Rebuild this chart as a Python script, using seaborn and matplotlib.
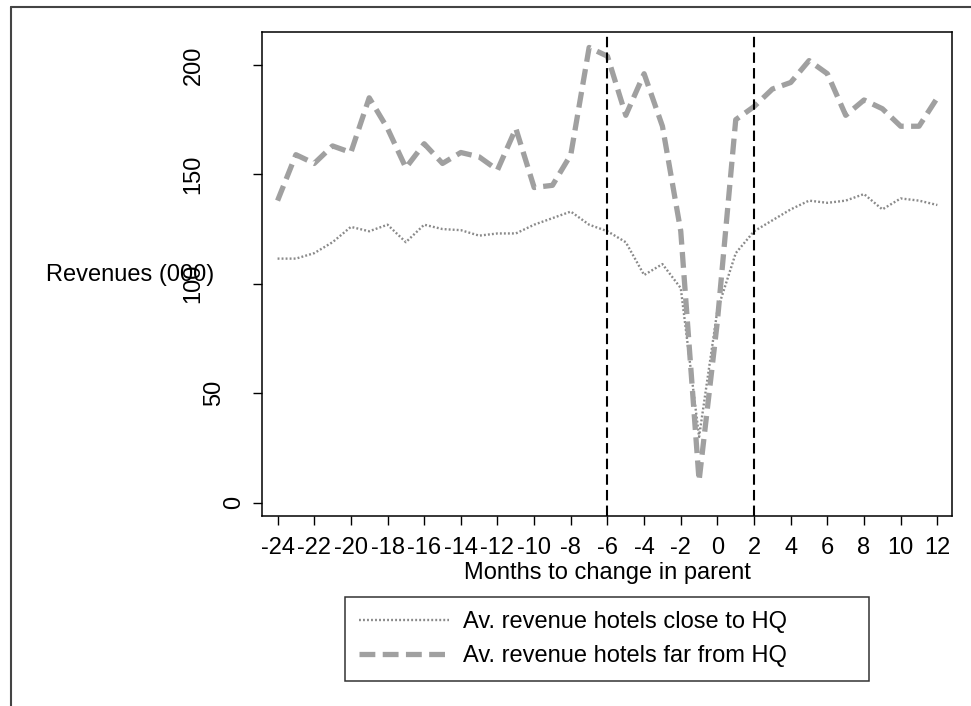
import seaborn as sns
import matplotlib.pyplot as plt
import matplotlib.lines as mlines
import matplotlib.transforms as mtransforms
import pandas as pd

sns.set_theme(style="white")
plt.rcParams['font.family'] = ['Liberation Sans', 'DejaVu Sans']
plt.rcParams['text.color'] = 'black'
plt.rcParams['axes.labelcolor'] = 'black'
plt.rcParams['xtick.color'] = 'black'
plt.rcParams['ytick.color'] = 'black'

months = list(range(-24, 13))
close_hq = [111.5, 111.5, 114, 119, 126, 124, 127, 119, 127, 125, 124.5, 122, 123,
            123, 127, 130, 133, 127, 124, 119, 104, 109, 98, 30, 88, 114, 124, 129,
            134, 138, 137, 138, 141, 134, 139, 138, 136]
far_hq = [138, 159, 155, 163, 160, 185, 171, 153, 164, 155, 160, 158, 152, 171,
          144, 145, 159, 208, 204, 177, 196, 172, 124, 10, 83, 175, 181, 189, 192,
          202, 196, 177, 184, 180, 172, 172, 185]
event_lines = [-6, 2]
xticks = list(range(-24, 13, 2))
yticks = [0, 50, 100, 150, 200]

df = pd.DataFrame({"month": months, "close": close_hq, "far": far_hq})

fs = 17
fig = plt.figure(figsize=(9.71, 7.06), dpi=100)
ax = fig.add_axes([262 / 971, 1 - 515.7 / 706, 690 / 971, 484.2 / 706])

sns.lineplot(data=df, x="month", y="close", ax=ax, color="#8a8a8a",
             linewidth=1.7, linestyle=(0, (0.8, 0.9)),
             label="Av. revenue hotels close to HQ")
sns.lineplot(data=df, x="month", y="far", ax=ax, color="#a0a0a0",
             linewidth=3.8, linestyle=(0, (3, 1.4)),
             label="Av. revenue hotels far from HQ")
for m in event_lines:
    ax.axvline(m, color="black", linewidth=1.5, linestyle=(0, (5, 2.5)))

ax.set_xlim(-24.85, 12.8)
ax.set_ylim(-6.0, 215.3)
ax.set_xticks(xticks)
ax.set_xticklabels([str(t) for t in xticks], fontsize=fs)
ax.set_yticks(yticks)
ax.set_yticklabels([str(t) for t in yticks], fontsize=fs, rotation=90, va="center")
ax.tick_params(axis="both", direction="out", length=6.5, width=1, color="black",
               left=True, bottom=True)
ax.tick_params(axis="x", pad=9)
ax.tick_params(axis="y", pad=6)

# Stata-style rotated labels sit further left the longer they are
for lab in ax.get_yticklabels():
    shift = (len(lab.get_text()) - 1) * 14.4 / 72
    lab.set_transform(lab.get_transform() +
                      mtransforms.ScaledTranslation(-shift, 0, fig.dpi_scale_trans))

for sp in ax.spines.values():
    sp.set_color("black")
    sp.set_linewidth(1.1)

ax.set_xlabel("Months to change in parent", fontsize=fs)
ax.xaxis.set_label_coords(0.5, -0.118)
ax.xaxis.label.set_va("center")
ax.set_ylabel("Revenues (000)", fontsize=fs, rotation=0, ha="center", va="center")
ax.yaxis.set_label_coords(-0.1906, 0.497)

handles, labels = ax.get_legend_handles_labels()
ax.get_legend().remove()
leg = fig.legend(handles, labels, loc="upper left",
                 bbox_to_anchor=(345 / 971, 1 - 597 / 706, 524 / 971, 0),
                 mode="expand", borderaxespad=0, fontsize=fs, frameon=True,
                 fancybox=False, edgecolor="black", handlelength=3.8,
                 handletextpad=0.6, borderpad=0.6, labelspacing=0.5)
leg.get_frame().set_linewidth(1.1)

# outer graph border (top and left visible)
fig.add_artist(mlines.Line2D([11 / 971, 11 / 971], [0, 1 - 6.7 / 706],
                             transform=fig.transFigure, color="#444444", linewidth=1.5))
fig.add_artist(mlines.Line2D([11 / 971, 1], [1 - 6.7 / 706, 1 - 6.7 / 706],
                             transform=fig.transFigure, color="#444444", linewidth=1.5))

fig.savefig("out.png", dpi=100, facecolor="white")
